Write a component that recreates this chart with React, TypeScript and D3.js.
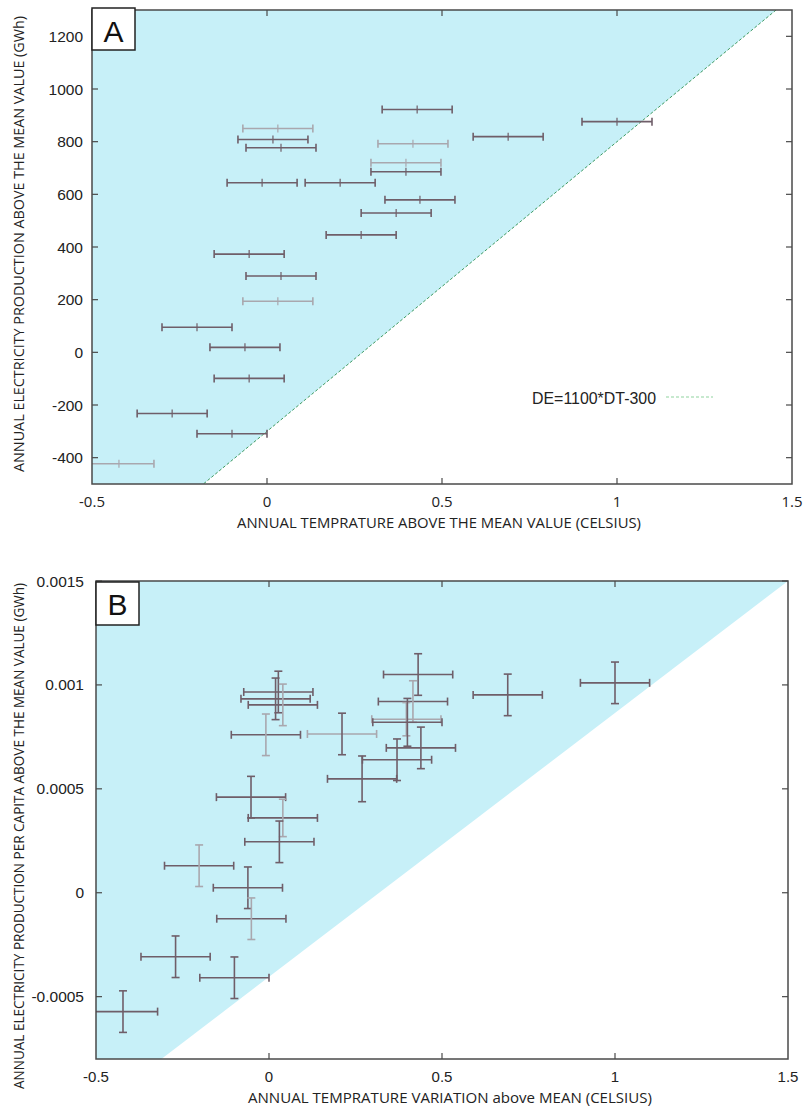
import React from "react";
import * as d3 from "d3";

// ---------- Panel A data ----------
const dtA = [1.0, 0.689, 0.429, 0.031, 0.017, 0.04, 0.417, 0.397, 0.397, -0.014, 0.209, 0.437, 0.369, 0.269, -0.051, 0.04, 0.031, -0.2, -0.063, -0.051, -0.271, -0.1, -0.423];
const deA = [876, 819, 922, 850, 808, 777, 792, 720, 686, 644, 644, 579, 529, 446, 373, 290, 194, 95, 19, -99, -232, -309, -423];
const dtErrA = [0.1, 0.1, 0.1, 0.1, 0.1, 0.1, 0.1, 0.1, 0.1, 0.1, 0.1, 0.1, 0.1, 0.1, 0.1, 0.1, 0.1, 0.1, 0.1, 0.1, 0.1, 0.1, 0.1];
const faintA = [3, 6, 7, 16, 22];

// ---------- Panel B data ----------
const dtB = [0.019, 0.027, 0.04, -0.009, 0.211, 0.431, 0.416, 0.397, 0.4, 0.439, 0.37, 0.269, 0.69, 1.0, -0.052, 0.04, 0.03, -0.202, -0.061, -0.051, -0.27, -0.1, -0.422];
const deB = [0.000933, 0.000966, 0.000904, 0.00076, 0.000764, 0.00105, 0.00092, 0.000835, 0.00082, 0.000697, 0.00064, 0.000548, 0.000952, 0.00101, 0.00046, 0.00036, 0.000245, 0.00013, 0.000024, -0.000125, -0.000308, -0.000409, -0.000572];
const dtErrB = [0.1, 0.1, 0.1, 0.1, 0.1, 0.1, 0.1, 0.1, 0.1, 0.1, 0.1, 0.1, 0.1, 0.1, 0.1, 0.1, 0.1, 0.1, 0.1, 0.1, 0.1, 0.1, 0.1];
const deErrB = [0.0001, 0.0001, 0.0001, 0.0001, 0.0001, 0.0001, 0.0001, 0.00008, 0.000115, 0.0001, 0.0001, 0.00011, 0.0001, 0.0001, 0.0001, 0.00009, 0.0001, 0.0001, 0.0001, 0.0001, 0.0001, 0.0001, 0.0001];
const faintHB = [4, 7];
const faintVB = [2, 3, 6, 7, 15, 17, 19];

// ---------- ticks / labels ----------
const xTicks = [-0.5, 0, 0.5, 1, 1.5];
const xTickLabels = ["-0.5", "0", "0.5", "1", "1.5"];
const yTicksA = [-400, -200, 0, 200, 400, 600, 800, 1000, 1200];
const yTicksB = [-0.0005, 0, 0.0005, 0.001, 0.0015];
const yTickLabelsB = ["-0.0005", "0", "0.0005", "0.001", "0.0015"];
const lineA = { slope: 1100, intercept: -300 };
const lineB = { slope: 0.00127, intercept: -0.000405 };

const FONT = "'Open Sans', 'Liberation Sans', Arial, sans-serif";
const LAB = "'Liberation Sans', Arial, sans-serif";
const CYAN = "#c7f0f8";
const DARK = "#6f5e69";
const LIGHT = "#a9a7ae";
const FRAME = "#4a4a4a";

function Frame({ x, y, xTicksV, yTicksV }: any) {
  const [x0, x1] = x.range();
  const [y0, y1] = y.range();
  const tl = 6;
  return (
    <g>
      <rect x={x0} y={y1} width={x1 - x0} height={y0 - y1} fill="none" stroke={FRAME} strokeWidth={1.5} />
      {xTicksV.slice(1, -1).map((t: number, i: number) => (
        <g key={"xt" + i} stroke={FRAME} strokeWidth={1.2}>
          <line x1={x(t)} x2={x(t)} y1={y0} y2={y0 - tl} />
          <line x1={x(t)} x2={x(t)} y1={y1} y2={y1 + tl} />
        </g>
      ))}
      {yTicksV.map((t: number, i: number) => (
        <g key={"yt" + i} stroke={FRAME} strokeWidth={1.2}>
          <line x1={x0} x2={x0 + tl} y1={y(t)} y2={y(t)} />
          <line x1={x1} x2={x1 - tl} y1={y(t)} y2={y(t)} />
        </g>
      ))}
    </g>
  );
}

export default function App() {
  const xA = d3.scaleLinear().domain([-0.5, 1.5]).range([92, 792]);
  const yA = d3.scaleLinear().domain([-500, 1300]).range([484, 10]);
  const xB = d3.scaleLinear().domain([-0.5, 1.5]).range([96, 788]);
  const yB = d3.scaleLinear().domain([-0.0008, 0.0015]).range([1059, 581]);

  const fA = (t: number) => lineA.slope * t + lineA.intercept;
  const fB = (t: number) => lineB.slope * t + lineB.intercept;

  const polyA = [
    [xA(-0.5), yA(fA(-0.5))],
    [xA(1.5), yA(fA(1.5))],
    [xA(1.5), yA(1300)],
    [xA(-0.5), yA(1300)],
  ];
  const polyB = [
    [xB(-0.5), yB(fB(-0.5))],
    [xB(1.5), yB(fB(1.5))],
    [xB(1.5), yB(0.0015)],
    [xB(-0.5), yB(0.0015)],
  ];
  const lineGen = d3.line();
  const cap = 4;

  return (
    <svg width={804} height={1113} style={{ position: "absolute", left: 0, top: 0, background: "#fff" }} fontFamily={FONT}>
      <defs>
        <clipPath id="clipA">
          <rect x={92} y={10} width={700} height={474} />
        </clipPath>
        <clipPath id="clipB">
          <rect x={96} y={581} width={692} height={478} />
        </clipPath>
      </defs>

      {/* ================= Panel A ================= */}
      <g clipPath="url(#clipA)">
        <path d={lineGen(polyA as any) + "Z"} fill={CYAN} />
        <line x1={xA(-0.5)} y1={yA(fA(-0.5))} x2={xA(1.5)} y2={yA(fA(1.5))} stroke="#3f9a62" strokeWidth={1} strokeDasharray="3,2" />
        {dtA.map((t, i) => {
          const c = faintA.includes(i) ? LIGHT : DARK;
          const yy = yA(deA[i]);
          const xl = xA(t - dtErrA[i]);
          const xr = xA(t + dtErrA[i]);
          return (
            <g key={"a" + i} stroke={c} strokeWidth={1.6}>
              <line x1={xl} x2={xr} y1={yy} y2={yy} />
              <line x1={xl} x2={xl} y1={yy - cap} y2={yy + cap} />
              <line x1={xr} x2={xr} y1={yy - cap} y2={yy + cap} />
              <line x1={xA(t)} x2={xA(t)} y1={yy - cap} y2={yy + cap} strokeWidth={1.2} />
            </g>
          );
        })}
      </g>
      <Frame x={xA} y={yA} xTicksV={xTicks} yTicksV={yTicksA} />
      {/* legend */}
      <text x={656} y={404} fontSize={16} textAnchor="end" fill="#222" fontFamily={LAB} textLength={124} lengthAdjust="spacingAndGlyphs">DE=1100*DT-300</text>
      <line x1={666} x2={713} y1={397} y2={397} stroke="#8fd39e" strokeWidth={1} strokeDasharray="3,2" />
      {/* box A */}
      <rect x={92} y={8} width={43} height={42} fill="#fff" stroke="#222" strokeWidth={1.5} />
      <text x={113.5} y={42} fontSize={30} textAnchor="middle" fill="#111" fontFamily={LAB}>A</text>
      {xTicks.map((t, i) => (
        <text key={"xla" + i} x={xA(t)} y={507} fontSize={15} textAnchor="middle" fill="#222">{xTickLabels[i]}</text>
      ))}
      {yTicksA.map((t, i) => (
        <text key={"yla" + i} x={83} y={yA(t) + 5.5} fontSize={15.5} textAnchor="end" fill="#222" fontFamily={LAB}>{String(t)}</text>
      ))}
      <text x={439} y={528} fontSize={15} textAnchor="middle" fill="#222" textLength={404} lengthAdjust="spacingAndGlyphs">ANNUAL TEMPRATURE ABOVE THE MEAN VALUE (CELSIUS)</text>
      <text transform="translate(24,244) rotate(-90)" fontSize={14.5} textAnchor="middle" fill="#222" textLength={456} lengthAdjust="spacingAndGlyphs">ANNUAL ELECTRICITY PRODUCTION ABOVE THE MEAN VALUE (GWh)</text>

      {/* ================= Panel B ================= */}
      <g clipPath="url(#clipB)">
        <path d={lineGen(polyB as any) + "Z"} fill={CYAN} />
        {dtB.map((t, i) => {
          const ch = faintHB.includes(i) ? LIGHT : DARK;
          const cv = faintVB.includes(i) ? LIGHT : DARK;
          const yy = yB(deB[i]);
          const xx = xB(t);
          const xl = xB(t - dtErrB[i]);
          const xr = xB(t + dtErrB[i]);
          const yt = yB(deB[i] + deErrB[i]);
          const yb = yB(deB[i] - deErrB[i]);
          return (
            <g key={"b" + i} strokeWidth={1.6}>
              <g stroke={ch}>
                <line x1={xl} x2={xr} y1={yy} y2={yy} />
                <line x1={xl} x2={xl} y1={yy - cap} y2={yy + cap} />
                <line x1={xr} x2={xr} y1={yy - cap} y2={yy + cap} />
              </g>
              <g stroke={cv}>
                <line x1={xx} x2={xx} y1={yt} y2={yb} />
                <line x1={xx - cap} x2={xx + cap} y1={yt} y2={yt} />
                <line x1={xx - cap} x2={xx + cap} y1={yb} y2={yb} />
              </g>
            </g>
          );
        })}
      </g>
      <Frame x={xB} y={yB} xTicksV={xTicks} yTicksV={yTicksB} />
      <rect x={96} y={582} width={43} height={43} fill="#fff" stroke="#222" strokeWidth={1.5} />
      <text x={117.5} y={615} fontSize={30} textAnchor="middle" fill="#111" fontFamily={LAB}>B</text>
      {xTicks.map((t, i) => (
        <text key={"xlb" + i} x={xB(t)} y={1082} fontSize={15} textAnchor="middle" fill="#222" fontFamily={LAB}>{xTickLabels[i]}</text>
      ))}
      {yTicksB.map((t, i) => (
        <text key={"ylb" + i} x={84} y={yB(t) + 5.5} fontSize={15.5} textAnchor="end" fill="#222" fontFamily={LAB}>{yTickLabelsB[i]}</text>
      ))}
      <text x={450} y={1103} fontSize={15} textAnchor="middle" fill="#222" textLength={404} lengthAdjust="spacingAndGlyphs">ANNUAL TEMPRATURE VARIATION above MEAN (CELSIUS)</text>
      <text transform="translate(24,836) rotate(-90)" fontSize={14.5} textAnchor="middle" fill="#222" textLength={506} lengthAdjust="spacingAndGlyphs">ANNUAL ELECTRICITY PRODUCTION PER CAPITA ABOVE  THE MEAN VALUE (GWh)</text>
    </svg>
  );
}
